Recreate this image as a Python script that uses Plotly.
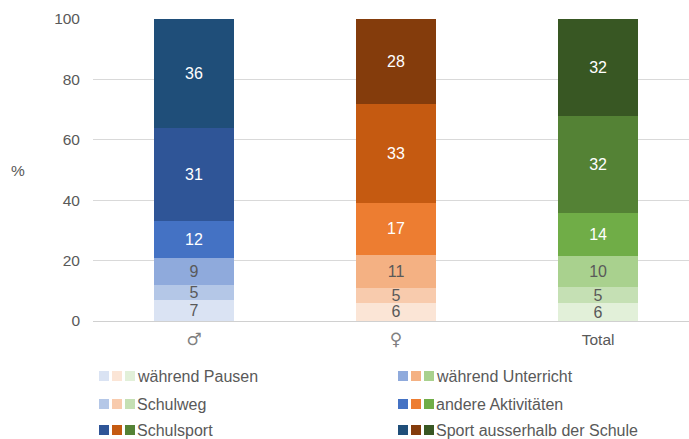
import plotly.graph_objects as go

categories = ["♂", "♀", "Total"]
series_names = ["während Pausen", "Schulweg", "während Unterricht",
                "andere Aktivitäten", "Schulsport", "Sport ausserhalb der Schule"]
pausen = [7, 6, 5.8]
schulweg = [5, 5, 5.3]
unterricht = [9, 11, 10.3]
andere = [12, 17, 14.3]
schulsport = [31, 33, 32.1]
sport_ausser = [36, 28, 32.2]
values = [pausen, schulweg, unterricht, andere, schulsport, sport_ausser]
y_ticks = [0, 20, 40, 60, 80, 100]

colors = [
    ["#dae3f3", "#fbe5d6", "#e2f0d9"],
    ["#b4c7e7", "#f8cbad", "#c5e0b4"],
    ["#8faadc", "#f4b183", "#a9d18e"],
    ["#4472c4", "#ed7d31", "#70ad47"],
    ["#2f5597", "#c55a11", "#548235"],
    ["#1f4e79", "#843c0c", "#385723"],
]
text_colors = ["#595959", "#595959", "#595959", "white", "white", "white"]

FONT = "Liberation Sans, Arial, sans-serif"
fig = go.Figure()
for name, vals, cols, tc in zip(series_names, values, colors, text_colors):
    fig.add_trace(go.Bar(
        x=categories, y=vals, name=name,
        marker=dict(color=cols, line=dict(width=0)),
        texttemplate="%{y:.0f}", textposition="inside",
        insidetextanchor="middle", textangle=0,
        insidetextfont=dict(color=tc, size=16, family=FONT),
        width=0.4, showlegend=False, hoverinfo="skip",
    ))

tick_text = ['<span style="font-family:DejaVu Sans;font-size:17px;fill:#7f7f7f">' + c + '</span>'
             if c in ("♂", "♀") else c for c in categories]

fig.update_layout(
    barmode="stack",
    width=689, height=439,
    margin=dict(l=93, r=0, t=19, b=118),
    plot_bgcolor="white", paper_bgcolor="white",
    font=dict(family=FONT, size=16, color="#595959"),
    uniformtext=dict(minsize=16, mode="show"),
    xaxis=dict(range=[-0.5, 2.45], showgrid=False, showline=True,
               linecolor="#d0d0d0", linewidth=1, ticks="",
               tickvals=categories, ticktext=tick_text,
               ticklabelstandoff=4,
               tickfont=dict(size=15.5, color="#595959", family=FONT)),
    yaxis=dict(range=[0, 100], tickvals=y_ticks, showgrid=True,
               gridcolor="#d9d9d9", gridwidth=1, zeroline=False,
               ticks="", ticklabelstandoff=12,
               tickfont=dict(size=15.5, color="#595959", family=FONT)),
)

W, H = 689, 439
ml, mr, mt, mb = 93, 0, 19, 118
pw, ph = W - ml - mr, H - mt - mb

def px(x):
    return (x - ml) / pw

def py(y):
    return (H - mb - y) / ph

fig.add_annotation(text="%", x=px(18), y=py(170), xref="paper", yref="paper",
                   showarrow=False, xanchor="center", yanchor="middle",
                   font=dict(size=15.5, color="#595959"))

# custom legend: row-wise order as in reference
legend_layout = [
    (0, 99, 376), (2, 398, 376),
    (1, 99, 404), (3, 398, 404),
    (4, 99, 430), (5, 398, 430),
]
shapes = []
for idx, lx, ly in legend_layout:
    for k in range(3):
        x0 = lx + 13 * k
        shapes.append(dict(type="rect", xref="paper", yref="paper",
                           x0=px(x0), x1=px(x0 + 10), y0=py(ly + 5), y1=py(ly - 5),
                           fillcolor=colors[idx][k], line=dict(width=0)))
    fig.add_annotation(text=series_names[idx], x=px(lx + 37), y=py(ly),
                       xref="paper", yref="paper", showarrow=False,
                       xanchor="left", yanchor="middle", borderpad=0,
                       font=dict(size=16, color="#595959"))
fig.update_layout(shapes=shapes)

fig.write_html("out.html")
